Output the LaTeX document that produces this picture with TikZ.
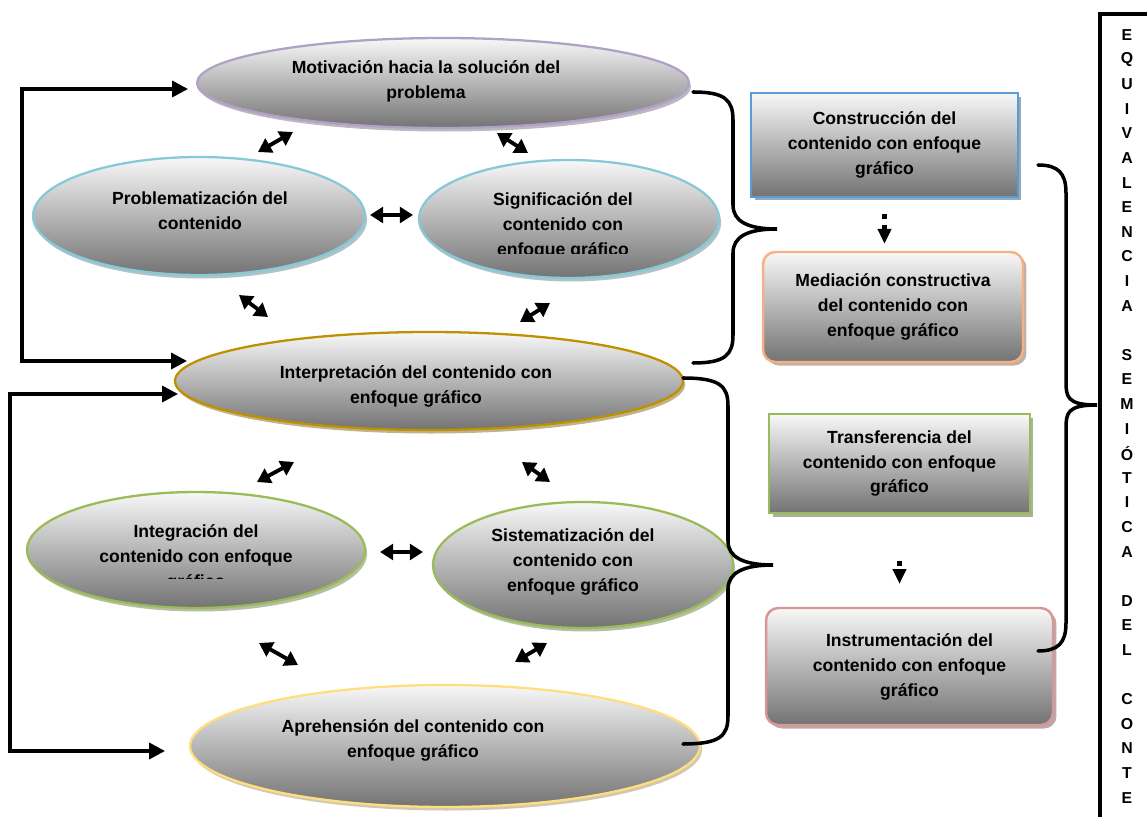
\documentclass[tikz,border=0pt]{standalone}
\usepackage{fontspec}
\setmainfont{Liberation Sans}
\usepackage{tikz}
\usetikzlibrary{arrows.meta}
\usetikzlibrary{shapes.geometric}
\usetikzlibrary{shadows}
\definecolor{lila}{RGB}{178,161,199}
\definecolor{aqua}{RGB}{135,201,216}
\definecolor{ocre}{RGB}{191,144,0}
\definecolor{oliva}{RGB}{155,187,89}
\definecolor{crema}{RGB}{255,222,128}
\definecolor{azul}{RGB}{91,155,213}
\definecolor{naranja}{RGB}{244,177,131}
\definecolor{rosa}{RGB}{217,150,148}
\definecolor{grisclaro}{RGB}{248,248,248}
\definecolor{grisoscuro}{RGB}{115,115,115}
% llave: x extremo, x vertical, x punta, y arriba, y punta, y abajo
\newcommand{\curlybr}[6]{%
  \draw[llave] (#1,#4) .. controls (#2-8,#4) and (#2,#4+8) .. (#2,#4+28)
    -- (#2,#5-24) .. controls (#2,#5-8) and (#3-30,#5) .. (#3,#5)
    .. controls (#3-30,#5) and (#2,#5+8) .. (#2,#5+24)
    -- (#2,#6-28) .. controls (#2,#6-8) and (#2-8,#6) .. (#1,#6);}

\begin{document}
\begin{tikzpicture}[x=0.02cm, y=-0.02cm,
    relleno/.style={top color=grisclaro, bottom color=grisoscuro},
    texto/.style={font=\bfseries\fontsize{10}{14.2}\selectfont, align=center, inner sep=0pt},
    burbuja/.style n args={3}{ellipse, draw=#1, line width=1.3pt, relleno,
      minimum width=#2, minimum height=#3, inner sep=0pt, outer sep=0pt,
      drop shadow={shadow xshift=1.2pt, shadow yshift=-2pt, opacity=.45, fill=#1!60!black}},
    caja/.style={rectangle, draw=#1, line width=1.4pt, relleno, texto,
      drop shadow={shadow xshift=2pt, shadow yshift=-2pt, opacity=.5, fill=#1!55!black}},
    twoway/.style={line width=2.2pt, {Triangle[length=7.5pt,width=9pt]}-{Triangle[length=7.5pt,width=9pt]}},
    realim/.style={line width=2pt, {Triangle[length=9pt,width=9pt]}-{Triangle[length=9pt,width=9pt]}},
    bajada/.style={line width=2.8pt, dash pattern=on 3pt off 3pt, -{Triangle[length=8.5pt,width=7.5pt]}},
    llave/.style={line width=2pt, line cap=round},
    letra/.style={font=\bfseries\fontsize{9}{10}\selectfont, inner sep=0pt}]
  \useasboundingbox (0,0) rectangle (1147,817);

  % fases (elipses)
  \node[burbuja={lila}{9.84cm}{1.8cm}] (mot) at (443,83) {};
  \node[texto] (mot-t) at ([shift={(-17,-2)}]mot) {Motivación hacia la solución del\\problema};
  \node[burbuja={aqua}{6.64cm}{2.36cm}] (prob) at (199,216) {};
  \node[texto] (prob-t) at ([shift={(1,-5)}]prob) {Problematización del\\contenido};
  \node[burbuja={aqua}{6.0cm}{2.36cm}] (sig) at (569,219) {};
  \begin{scope}
    \clip ([shift={(-150,-60)}]sig) rectangle ([shift={(150,35)}]sig);
    \node[texto] (sig-t) at ([shift={(-6,7)}]sig) {Significación del\\contenido con\\enfoque gráfico};
  \end{scope}
  \node[burbuja={ocre}{10.16cm}{1.96cm}] (inter) at (429,381) {};
  \node[texto] (inter-t) at ([shift={(-13,5)}]inter) {Interpretación del contenido con\\enfoque gráfico};
  \node[burbuja={oliva}{6.76cm}{2.32cm}] (integ) at (196,550) {};
  \begin{scope}
    \clip ([shift={(-170,-60)}]integ) rectangle ([shift={(170,29)}]integ);
    \node[texto] (integ-t) at ([shift={(0,8)}]integ) {Integración del\\contenido con enfoque\\gráfico};
  \end{scope}
  \node[burbuja={oliva}{6.0cm}{2.52cm}] (sis) at (583,565) {};
  \node[texto] (sis-t) at ([shift={(-10,-3)}]sis) {Sistematización del\\contenido con\\enfoque gráfico};
  \node[burbuja={crema}{10.2cm}{2.44cm}] (apr) at (445,746) {};
  \node[texto] (apr-t) at ([shift={(-32,-6)}]apr) {Aprehensión del contenido con\\enfoque gráfico};

  % flechas dobles entre fases
  \foreach \n/\ax/\ay/\bx/\by in {mp/258/152/293/132, ms/497/133/528/153, ps/370/215/413/215,
      pi/239/295/268/317, si/520/322/550/303, ii/257/482/294/462, is/522/462/550/482,
      gs/380/552/423/552, ga/259/643/298/665, sa/515/662/547/643}{
    \coordinate (\n-a) at (\ax,\ay);
    \coordinate (\n-b) at (\bx,\by);
    \draw[twoway] (\n-a) -- (\n-b);
  }

  % retroalimentacion
  \coordinate (fbA) at (22,89);
  \coordinate (fbB) at (10,394);
  \draw[realim] ([shift={(-9,6)}]mot.west) -- (fbA) |- ([shift={(12,-20)}]inter.west);
  \draw[realim] ([shift={(3,13)}]inter.west) -- (fbB) |- ([shift={(-25,5)}]apr.west);

  % cajas de la derecha
  \node[caja=azul, minimum width=5.34cm, minimum height=2.08cm] (constr) at (884.5,145)
    {Construcción del\\contenido con enfoque\\gráfico};
  \node[caja=naranja, rounded corners=7pt, minimum width=5.2cm, minimum height=2.2cm] (media) at (893,307)
    {Mediación constructiva\\del contenido con\\enfoque gráfico};
  \node[caja=oliva, minimum width=5.22cm, minimum height=1.98cm] (transf) at (899.5,463.5)
    {Transferencia del\\contenido con enfoque\\gráfico};
  \node[caja=rosa, rounded corners=7pt, minimum width=5.74cm, minimum height=2.34cm] (instr) at (909.5,666.5)
    {Instrumentación del\\contenido con enfoque\\gráfico};
  \draw[bajada, shorten <=9pt, shorten >=4pt] (constr.south) -- (constr.south |- media.north);
  \draw[bajada, shorten <=26.6pt, shorten >=13pt] (transf.south) -- (transf.south |- instr.north);

  % llaves
  \curlybr{693}{733}{777}{92}{229}{363}
  \curlybr{683}{728}{773}{378}{565}{744}
  \curlybr{1038}{1066}{1097}{165}{405}{651}

  % texto vertical
  \draw[line width=2pt] (1147,14) -- (1100,14) -- (1100,817);
  \foreach \l [count=\i] in {E,Q,U,I,V,A,L,E,N,C,I,A,{},S,E,M,I,Ó,T,I,C,A,{},D,E,L,{},C,O,N,T,E}
    \node[letra] (l\i) at (1127,{35+24.6*(\i-1)}) {\l};
\end{tikzpicture}
\end{document}
